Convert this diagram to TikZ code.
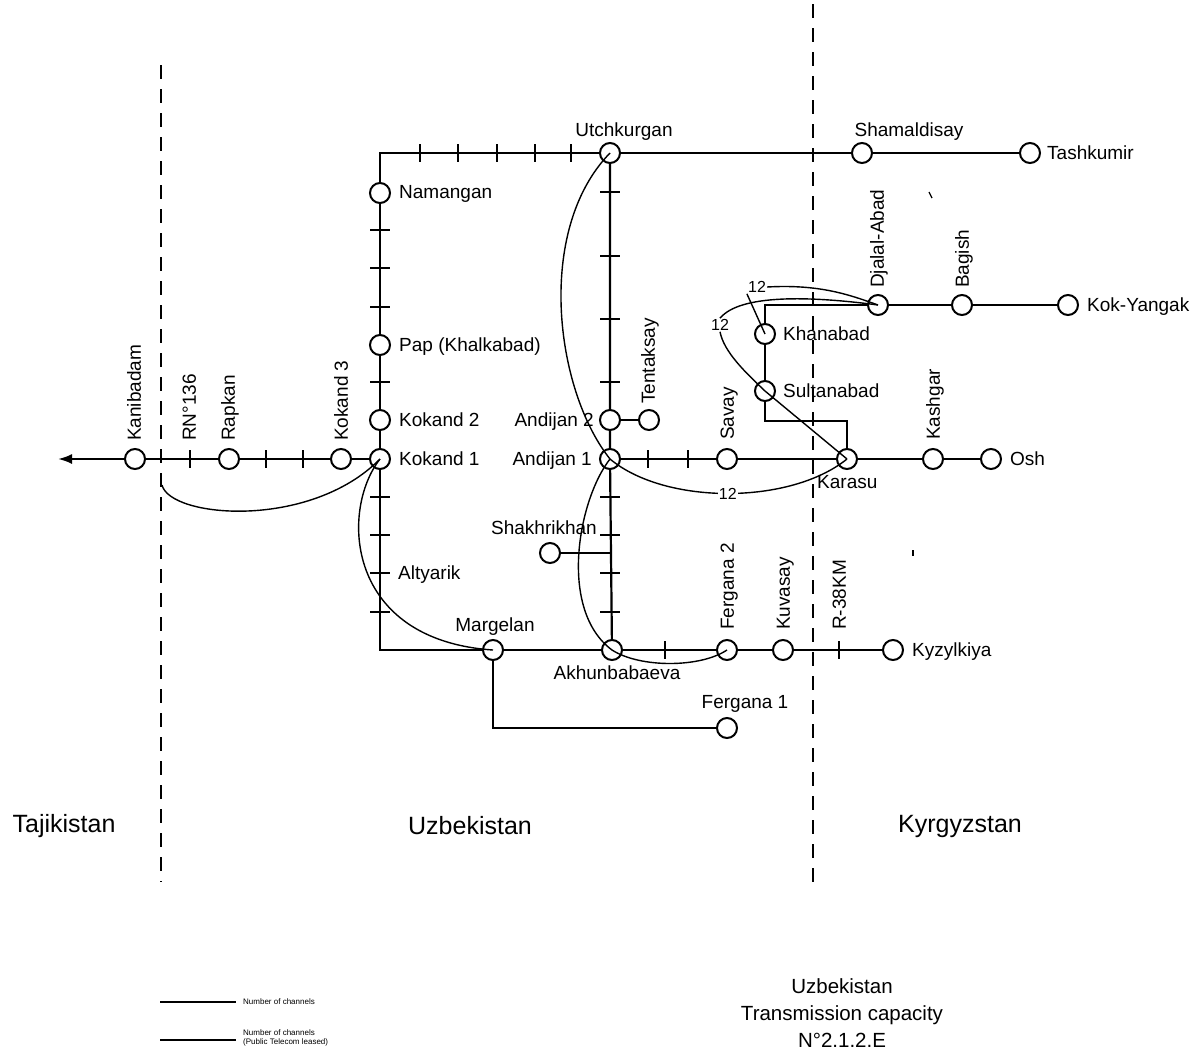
\documentclass[tikz,border=0pt]{standalone}
\usepackage{fontspec}
\setmainfont{Liberation Sans}
\usetikzlibrary{arrows.meta}
\begin{document}
\begin{tikzpicture}[x=1pt,y=-1pt,
  stn/.style={circle,draw,line width=2pt,minimum size=20pt,inner sep=0pt,fill=white},
  link/.style={line width=2.2pt},
  arcline/.style={line width=1.4pt},
  border/.style={line width=1.1pt,dash pattern=on 14pt off 10pt},
  lbl/.style={font=\fontsize{19}{22}\selectfont,inner sep=0pt,text height=13.6pt,text depth=0pt},
  vlbl/.style={lbl,rotate=90,anchor=west},
  numlbl/.style={font=\fontsize{16}{18}\selectfont,fill=white,inner sep=1pt},
  country/.style={font=\fontsize{25}{28}\selectfont,inner sep=0pt},
  vtk/.pic={\draw[link] (0,-9) -- (0,9);},
  htk/.pic={\draw[link] (-10,0) -- (10,0);}
]
\useasboundingbox (0,0) rectangle (1203,1058);

% country borders
\draw[border] (161,65) -- (161,882);
\draw[border] (813,4) -- (813,882);

% stations
\node[stn] (kan)  at (135,459) {};
\node[stn] (rap)  at (229,459) {};
\node[stn] (k3)   at (341,459) {};
\node[stn] (k1)   at (380,459) {};
\node[stn] (k2)   at (380,420) {};
\node[stn] (pap)  at (380,345) {};
\node[stn] (nam)  at (380,193) {};
\node[stn] (utch) at (610,153) {};
\node[stn] (sham) at (862,153) {};
\node[stn] (tash) at (1030,153) {};
\node[stn] (and2) at (610,420) {};
\node[stn] (and1) at (610,459) {};
\node[stn] (tent) at (649,420) {};
\node[stn] (sav)  at (727,459) {};
\node[stn] (kar)  at (847,459) {};
\node[stn] (kash) at (933,459) {};
\node[stn] (osh)  at (991,459) {};
\node[stn] (dj)   at (878,305) {};
\node[stn] (bag)  at (962,305) {};
\node[stn] (koky) at (1068,305) {};
\node[stn] (khan) at (765,334) {};
\node[stn] (sult) at (765,391) {};
\node[stn] (shak) at (550,553) {};
\node[stn] (marg) at (493,650) {};
\node[stn] (akh)  at (612,650) {};
\node[stn] (fer2) at (727,650) {};
\node[stn] (kuv)  at (783,650) {};
\node[stn] (kyz)  at (893,650) {};
\node[stn] (fer1) at (727,728) {};

\coordinate (ctl) at (380,153);
\coordinate (cbl) at (380,650);
\coordinate (jshak) at (610,553);
\coordinate (jdj) at (765,305);
\coordinate (jk1) at (765,421);
\coordinate (jk2) at (847,421);
\coordinate (jf1) at (493,728);
\coordinate (west) at (58,459);

% trunk lines
\draw[link] (k1) -- (k3) -- (rap) -- (kan);
\draw[link,-{Latex[length=14pt,width=10pt]}] (kan) -- (west);
\draw[link] (k1) -- (k2) -- (pap) -- (nam) -- (ctl) -- (utch) -- (sham) -- (tash);
\draw[link] (k1) -- (cbl) -- (marg) -- (akh) -- (fer2) -- (kuv) -- (kyz);
\draw[link] (utch) -- (and2) -- (and1) -- (akh);
\draw[link] (and2) -- (tent);
\draw[link] (and1) -- (sav) -- (kar) -- (kash) -- (osh);
\draw[link] (shak) -- (jshak);
\draw[link] (marg) -- (jf1) -- (fer1);
\draw[link] (dj) -- (bag) -- (koky);
\draw[link] (dj) -- (jdj) -- (khan) -- (sult) -- (jk1) -- (jk2) -- (kar);

% repeater marks
\foreach \x in {420,458,497,535,571} \pic at (\x,153) {vtk};
\foreach \x in {190,266,303} \pic at (\x,459) {vtk};
\foreach \x in {648,688} \pic at (\x,459) {vtk};
\foreach \x in {665,839} \pic at (\x,650) {vtk};
\foreach \y in {230,268,307,382,497,535,573,612} \pic at (380,\y) {htk};
\foreach \y in {192,256,319,382,497,535,573,612} \pic at (610,\y) {htk};

% leased circuits
\coordinate (g0) at (162,485);
\draw[arcline] (g0) .. controls (170,518) and (310,530) .. (k1.center);
\draw[arcline] (k1.center) .. controls (340,510) and (345,640) .. (marg.center);
\draw[arcline] (utch.center) .. controls (535,230) and (555,390) .. (and1.center);
\draw[arcline] (and1.center) .. controls (578,500) and (558,610) .. (akh.center)
  .. controls (640,668) and (700,668) .. (fer2.center);
\draw[arcline] (and1.center) .. controls (665,505) and (790,505) .. node[numlbl,pos=0.5] {12} (kar.center);
\node[numlbl] (a12) at (757,287) {12};
\draw[arcline] (khan.center) -- (a12.south west);
\draw[arcline] (a12.east) .. controls (820,284) and (850,295) .. (dj.center);
\node[numlbl] (b12) at (720,325) {12};
\draw[arcline] (dj.center) .. controls (810,296) and (740,294) .. (b12.north);
\draw[arcline] (b12.south) .. controls (724,352) and (745,372) .. (sult.center) -- (kar.center);

% station names
\node[lbl] at (624,130) {Utchkurgan};
\node[lbl] at (909,130) {Shamaldisay};
\node[lbl,anchor=west] at (1047,153) {Tashkumir};
\node[lbl,anchor=west] at (399,192) {Namangan};
\node[lbl,anchor=west] at (399,345) {Pap (Khalkabad)};
\node[lbl,anchor=west] at (399,420) {Kokand 2};
\node[lbl,anchor=west] at (399,459) {Kokand 1};
\node[lbl,anchor=east] at (594,420) {Andijan 2};
\node[lbl,anchor=east] at (592,459) {Andijan 1};
\node[lbl,anchor=west] at (783,334) {Khanabad};
\node[lbl,anchor=west] at (783,391) {Sultanabad};
\node[lbl,anchor=west] at (1087,305) {Kok-Yangak};
\node[lbl,anchor=west] at (1010,459) {Osh};
\node[lbl,anchor=west] at (817,482) {Karasu};
\node[lbl,anchor=east] at (597,528) {Shakhrikhan};
\node[lbl,anchor=west] at (398,573) {Altyarik};
\node[lbl] at (495,625) {Margelan};
\node[lbl] at (617,673) {Akhunbabaeva};
\node[lbl,anchor=west] at (912,650) {Kyzylkiya};
\node[lbl] at (745,702) {Fergana 1};

\node[vlbl] at (134,441) {Kanibadam};
\node[vlbl] at (189,441) {RN°136};
\node[vlbl] at (228,441) {Rapkan};
\node[vlbl] at (341,441) {Kokand 3};
\node[vlbl] at (648,404) {Tentaksay};
\node[vlbl] at (727,440) {Savay};
\node[vlbl] at (933,440) {Kashgar};
\node[vlbl] at (877,288) {Djalal-Abad};
\node[vlbl] at (962,288) {Bagish};
\node[vlbl] at (727,630) {Fergana 2};
\node[vlbl] at (783,630) {Kuvasay};
\node[vlbl] at (839,630) {R-38KM};

% stray marks
\draw[line width=1.3pt] (929,192) -- (932,198);
\draw[line width=1.3pt] (913,550) -- (913,556);

% countries
\node[country] at (64,826) {Tajikistan};
\node[country] at (470,826) {Uzbekistan};
\node[country] at (960,826) {Kyrgyzstan};

% legend
\coordinate (l1a) at (160,1002);
\coordinate (l1b) at (236,1002);
\coordinate (l2a) at (160,1040);
\coordinate (l2b) at (236,1040);
\draw[line width=1.2pt] (l1a) -- (l1b);
\draw[line width=1.9pt] (l2a) -- (l2b);
\node[font=\fontsize{8}{9}\selectfont,anchor=west,inner sep=0pt] at (243,1002) {Number of channels};
\node[font=\fontsize{8}{9}\selectfont,anchor=west,inner sep=0pt,align=left] at (243,1038) {Number of channels\\(Public Telecom leased)};

% title
\node[font=\fontsize{20.5}{27}\selectfont,align=center,inner sep=0pt] at (842,1013) {Uzbekistan\\Transmission capacity\\N°2.1.2.E};
\end{tikzpicture}
\end{document}
